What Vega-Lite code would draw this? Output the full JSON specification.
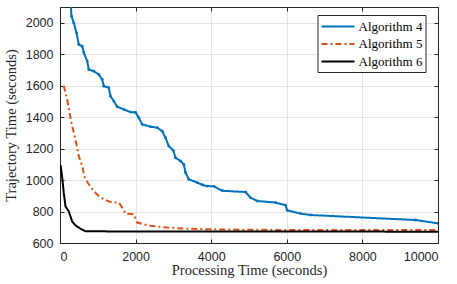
{
  "$schema": "https://vega.github.io/schema/vega-lite/v6.json",
  "width": 378,
  "height": 236,
  "autosize": "none",
  "padding": {"left": 60, "top": 7, "right": 19, "bottom": 41},
  "background": "white",
  "config": {
    "view": {"stroke": "#262626", "strokeWidth": 1},
    "axis": {
      "labelFont": "Liberation Sans",
      "labelFontSize": 12.5,
      "labelColor": "#262626",
      "titleFont": "Liberation Serif",
      "titleFontSize": 14.5,
      "titleFontWeight": "normal",
      "titleColor": "#262626",
      "domainColor": "#262626",
      "tickColor": "#262626",
      "gridColor": "#e3e3e3",
      "gridWidth": 1
    }
  },
  "data": {
    "values": [
      {"alg": "Algorithm 4", "x": 270, "y": 2160},
      {"alg": "Algorithm 4", "x": 304, "y": 2041},
      {"alg": "Algorithm 4", "x": 365, "y": 1999},
      {"alg": "Algorithm 4", "x": 437, "y": 1936},
      {"alg": "Algorithm 4", "x": 497, "y": 1862},
      {"alg": "Algorithm 4", "x": 587, "y": 1851},
      {"alg": "Algorithm 4", "x": 630, "y": 1809},
      {"alg": "Algorithm 4", "x": 720, "y": 1756},
      {"alg": "Algorithm 4", "x": 762, "y": 1703},
      {"alg": "Algorithm 4", "x": 894, "y": 1692},
      {"alg": "Algorithm 4", "x": 1026, "y": 1671},
      {"alg": "Algorithm 4", "x": 1116, "y": 1639},
      {"alg": "Algorithm 4", "x": 1159, "y": 1597},
      {"alg": "Algorithm 4", "x": 1291, "y": 1587},
      {"alg": "Algorithm 4", "x": 1336, "y": 1533},
      {"alg": "Algorithm 4", "x": 1423, "y": 1502},
      {"alg": "Algorithm 4", "x": 1513, "y": 1466},
      {"alg": "Algorithm 4", "x": 1688, "y": 1449},
      {"alg": "Algorithm 4", "x": 1865, "y": 1432},
      {"alg": "Algorithm 4", "x": 2000, "y": 1430},
      {"alg": "Algorithm 4", "x": 2085, "y": 1396},
      {"alg": "Algorithm 4", "x": 2175, "y": 1354},
      {"alg": "Algorithm 4", "x": 2394, "y": 1339},
      {"alg": "Algorithm 4", "x": 2571, "y": 1333},
      {"alg": "Algorithm 4", "x": 2704, "y": 1311},
      {"alg": "Algorithm 4", "x": 2791, "y": 1269},
      {"alg": "Algorithm 4", "x": 2878, "y": 1216},
      {"alg": "Algorithm 4", "x": 2995, "y": 1189},
      {"alg": "Algorithm 4", "x": 3056, "y": 1142},
      {"alg": "Algorithm 4", "x": 3188, "y": 1121},
      {"alg": "Algorithm 4", "x": 3276, "y": 1100},
      {"alg": "Algorithm 4", "x": 3320, "y": 1048},
      {"alg": "Algorithm 4", "x": 3407, "y": 1005},
      {"alg": "Algorithm 4", "x": 3630, "y": 984},
      {"alg": "Algorithm 4", "x": 3762, "y": 970},
      {"alg": "Algorithm 4", "x": 3894, "y": 962},
      {"alg": "Algorithm 4", "x": 4070, "y": 960},
      {"alg": "Algorithm 4", "x": 4291, "y": 932},
      {"alg": "Algorithm 4", "x": 4907, "y": 924},
      {"alg": "Algorithm 4", "x": 5040, "y": 888},
      {"alg": "Algorithm 4", "x": 5217, "y": 867},
      {"alg": "Algorithm 4", "x": 5701, "y": 857},
      {"alg": "Algorithm 4", "x": 5966, "y": 840},
      {"alg": "Algorithm 4", "x": 6010, "y": 808},
      {"alg": "Algorithm 4", "x": 6362, "y": 787},
      {"alg": "Algorithm 4", "x": 6627, "y": 778},
      {"alg": "Algorithm 4", "x": 9405, "y": 746},
      {"alg": "Algorithm 4", "x": 10000, "y": 725},
      {"alg": "Algorithm 5", "x": 100, "y": 1600},
      {"alg": "Algorithm 5", "x": 190, "y": 1512},
      {"alg": "Algorithm 5", "x": 251, "y": 1428},
      {"alg": "Algorithm 5", "x": 322, "y": 1344},
      {"alg": "Algorithm 5", "x": 410, "y": 1258},
      {"alg": "Algorithm 5", "x": 497, "y": 1152},
      {"alg": "Algorithm 5", "x": 587, "y": 1089},
      {"alg": "Algorithm 5", "x": 656, "y": 1015},
      {"alg": "Algorithm 5", "x": 762, "y": 973},
      {"alg": "Algorithm 5", "x": 894, "y": 930},
      {"alg": "Algorithm 5", "x": 1026, "y": 898},
      {"alg": "Algorithm 5", "x": 1204, "y": 873},
      {"alg": "Algorithm 5", "x": 1381, "y": 857},
      {"alg": "Algorithm 5", "x": 1556, "y": 857},
      {"alg": "Algorithm 5", "x": 1645, "y": 825},
      {"alg": "Algorithm 5", "x": 1733, "y": 787},
      {"alg": "Algorithm 5", "x": 1952, "y": 782},
      {"alg": "Algorithm 5", "x": 2042, "y": 730},
      {"alg": "Algorithm 5", "x": 2217, "y": 718},
      {"alg": "Algorithm 5", "x": 2394, "y": 709},
      {"alg": "Algorithm 5", "x": 2836, "y": 698},
      {"alg": "Algorithm 5", "x": 3275, "y": 692},
      {"alg": "Algorithm 5", "x": 3981, "y": 687},
      {"alg": "Algorithm 5", "x": 5000, "y": 684},
      {"alg": "Algorithm 5", "x": 7000, "y": 682},
      {"alg": "Algorithm 5", "x": 10000, "y": 682},
      {"alg": "Algorithm 6", "x": 15, "y": 1095},
      {"alg": "Algorithm 6", "x": 58, "y": 1017},
      {"alg": "Algorithm 6", "x": 100, "y": 918},
      {"alg": "Algorithm 6", "x": 145, "y": 833},
      {"alg": "Algorithm 6", "x": 233, "y": 801},
      {"alg": "Algorithm 6", "x": 322, "y": 737},
      {"alg": "Algorithm 6", "x": 410, "y": 712},
      {"alg": "Algorithm 6", "x": 542, "y": 691},
      {"alg": "Algorithm 6", "x": 675, "y": 674},
      {"alg": "Algorithm 6", "x": 10000, "y": 672}
    ]
  },
  "layer": [
    {
      "mark": {"type": "line", "strokeWidth": 2, "clip": true},
      "encoding": {
        "x": {
          "field": "x", "type": "quantitative",
          "scale": {"domain": [0, 10000], "nice": false, "zero": false},
          "axis": {"title": "Processing Time (seconds)", "values": [0, 2000, 4000, 6000, 8000, 10000], "tickSize": -4, "labelPadding": 11, "titlePadding": 1, "format": "d", "domain": true, "grid": true}
        },
        "y": {
          "field": "y", "type": "quantitative",
          "scale": {"domain": [600, 2100], "nice": false, "zero": false},
          "axis": {"title": "Trajectory Time (seconds)", "values": [600, 800, 1000, 1200, 1400, 1600, 1800, 2000], "tickSize": -4, "labelPadding": 11, "titlePadding": 7, "format": "d", "grid": true}
        },
        "color": {
          "field": "alg", "type": "nominal",
          "scale": {"domain": ["Algorithm 4", "Algorithm 5", "Algorithm 6"], "range": ["#0072BD", "#D95319", "#000000"]},
          "legend": {
            "title": null,
            "orient": "none",
            "legendX": 257.5,
            "legendY": 8,
            "symbolType": "M-1,0H3.4",
            "symbolSize": 225,
            "symbolStrokeWidth": 2,
            "labelFont": "Liberation Serif",
            "labelFontSize": 13,
            "labelColor": "#000000",
            "fillColor": "white",
            "strokeColor": "#262626",
            "padding": 3,
            "rowPadding": 1.5,
            "labelOffset": 21,
            "labelLimit": 200
          }
        },
        "strokeDash": {
          "field": "alg", "type": "nominal",
          "scale": {"domain": ["Algorithm 4", "Algorithm 5", "Algorithm 6"], "range": [[1, 0], [6, 3, 2, 3], [1, 0]]},
          "legend": null
        }
      }
    },
    {
      "transform": [{"filter": "datum.alg === 'Algorithm 4'"}],
      "mark": {"type": "point", "filled": true, "size": 8, "color": "#0072BD", "opacity": 1, "clip": true},
      "encoding": {
        "x": {"field": "x", "type": "quantitative", "axis": {"orient": "top", "title": null, "labels": false, "grid": false, "tickSize": -4, "values": [0, 2000, 4000, 6000, 8000, 10000]}},
        "y": {"field": "y", "type": "quantitative", "axis": {"orient": "right", "title": null, "labels": false, "grid": false, "tickSize": -4, "values": [600, 800, 1000, 1200, 1400, 1600, 1800, 2000]}}
      }
    }
  ],
  "resolve": {"axis": {"x": "independent", "y": "independent"}}
}
